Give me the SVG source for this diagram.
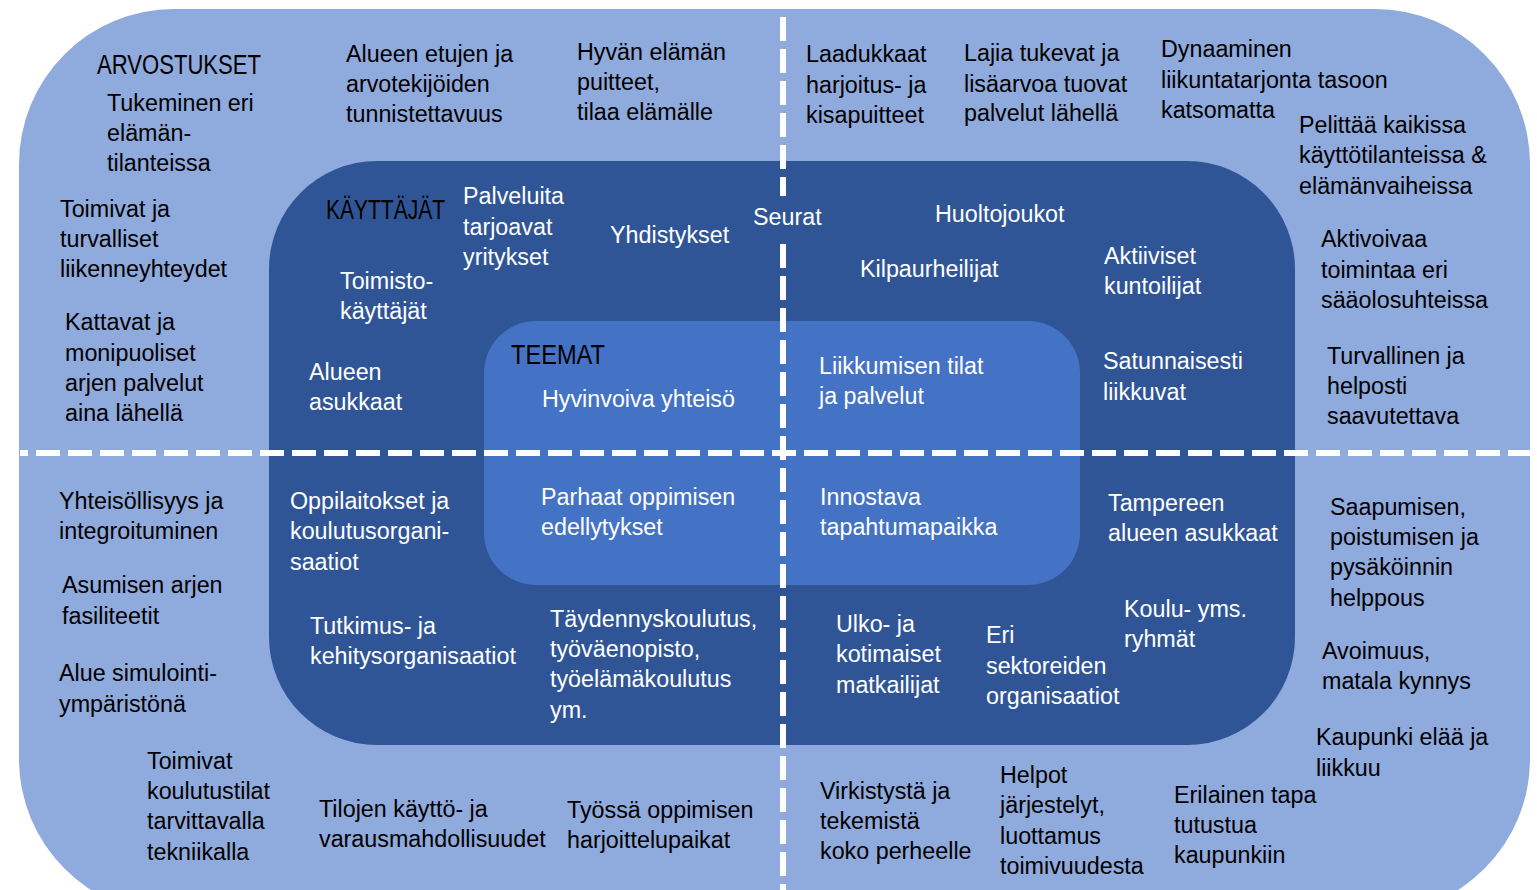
<svg xmlns="http://www.w3.org/2000/svg" width="1537" height="890" viewBox="0 0 1537 890">
<style>
text{font-family:"Liberation Sans",Arial,sans-serif;font-size:23.3px;}
.d{fill:#000;}
.w{fill:#fff;}
.t{font-size:27px;fill:#000;}
.dash{stroke:#fff;stroke-width:6;stroke-dasharray:24 8;fill:none;}
</style>
<rect width="1537" height="890" fill="#fff"/>
<g id="arvostukset-area"><rect x="19" y="9" width="1511" height="905" rx="155" ry="155" fill="#8FAADC"/></g>
<g id="kayttajat-area"><rect x="269" y="161" width="1026" height="584" rx="108" ry="108" fill="#2F5597"/></g>
<g id="teemat-area"><rect x="484" y="321" width="596" height="264" rx="52" ry="52" fill="#4472C4"/></g>
<g id="connectors">
<line class="dash" x1="20" y1="453" x2="1530" y2="453" stroke-dashoffset="16"/>
<line class="dash" x1="783" y1="17" x2="783" y2="196"/>
<line class="dash" x1="783" y1="244" x2="783" y2="890"/>
</g>
<g id="titles">
<text class="t" x="97" y="74" textLength="164" lengthAdjust="spacingAndGlyphs">ARVOSTUKSET</text>
<text class="t" x="326" y="219" textLength="119" lengthAdjust="spacingAndGlyphs">KÄYTTÄJÄT</text>
<text class="t" x="511" y="364" textLength="94" lengthAdjust="spacingAndGlyphs">TEEMAT</text>
</g>
<g id="values-top-left" class="d">
<text x="107" y="111">Tukeminen eri</text><text x="107" y="141">elämän-</text><text x="107" y="171">tilanteissa</text>
<text x="346" y="62">Alueen etujen ja</text><text x="346" y="92">arvotekijöiden</text><text x="346" y="122">tunnistettavuus</text>
<text x="577" y="60">Hyvän elämän</text><text x="577" y="90">puitteet,</text><text x="577" y="120">tilaa elämälle</text>
<text x="60" y="217">Toimivat ja</text><text x="60" y="247">turvalliset</text><text x="60" y="277">liikenneyhteydet</text>
<text x="65" y="330">Kattavat ja</text><text x="65" y="361">monipuoliset</text><text x="65" y="391">arjen palvelut</text><text x="65" y="421">aina lähellä</text>
</g>
<g id="values-top-right" class="d">
<text x="806" y="62">Laadukkaat</text><text x="806" y="93">harjoitus- ja</text><text x="806" y="123">kisapuitteet</text>
<text x="964" y="61">Lajia tukevat ja</text><text x="964" y="92">lisäarvoa tuovat</text><text x="964" y="121">palvelut lähellä</text>
<text x="1161" y="57">Dynaaminen</text><text x="1161" y="88">liikuntatarjonta tasoon</text><text x="1161" y="118">katsomatta</text>
<text x="1299" y="133">Pelittää kaikissa</text><text x="1299" y="163">käyttötilanteissa &amp;</text><text x="1299" y="194">elämänvaiheissa</text>
<text x="1321" y="247">Aktivoivaa</text><text x="1321" y="278">toimintaa eri</text><text x="1321" y="308">sääolosuhteissa</text>
<text x="1327" y="364">Turvallinen ja</text><text x="1327" y="394">helposti</text><text x="1327" y="424">saavutettava</text>
</g>
<g id="users-top" class="w">
<text x="463" y="204">Palveluita</text><text x="463" y="235">tarjoavat</text><text x="463" y="265">yritykset</text>
<text x="610" y="243">Yhdistykset</text>
<text x="753" y="225">Seurat</text>
<text x="935" y="222">Huoltojoukot</text>
<text x="860" y="277">Kilpaurheilijat</text>
<text x="1104" y="264">Aktiiviset</text><text x="1104" y="294">kuntoilijat</text>
<text x="340" y="289">Toimisto-</text><text x="340" y="319">käyttäjät</text>
<text x="309" y="380">Alueen</text><text x="309" y="410">asukkaat</text>
<text x="1103" y="369">Satunnaisesti</text><text x="1103" y="400">liikkuvat</text>
</g>
<g id="themes" class="w">
<text x="542" y="407">Hyvinvoiva yhteisö</text>
<text x="819" y="374">Liikkumisen tilat</text><text x="819" y="404">ja palvelut</text>
<text x="541" y="505">Parhaat oppimisen</text><text x="541" y="535">edellytykset</text>
<text x="820" y="505">Innostava</text><text x="820" y="535">tapahtumapaikka</text>
</g>
<g id="users-bottom" class="w">
<text x="290" y="509">Oppilaitokset ja</text><text x="290" y="539">koulutusorgani-</text><text x="290" y="570">saatiot</text>
<text x="1108" y="511">Tampereen</text><text x="1108" y="541">alueen asukkaat</text>
<text x="310" y="634">Tutkimus- ja</text><text x="310" y="664">kehitysorganisaatiot</text>
<text x="550" y="627">Täydennyskoulutus,</text><text x="550" y="657">työväenopisto,</text><text x="550" y="687">työelämäkoulutus</text><text x="550" y="718">ym.</text>
<text x="836" y="632">Ulko- ja</text><text x="836" y="662">kotimaiset</text><text x="836" y="693">matkailijat</text>
<text x="986" y="643">Eri</text><text x="986" y="674">sektoreiden</text><text x="986" y="704">organisaatiot</text>
<text x="1124" y="617">Koulu- yms.</text><text x="1124" y="647">ryhmät</text>
</g>
<g id="values-bottom-left" class="d">
<text x="59" y="509">Yhteisöllisyys ja</text><text x="59" y="539">integroituminen</text>
<text x="62" y="593">Asumisen arjen</text><text x="62" y="624">fasiliteetit</text>
<text x="59" y="681">Alue simulointi-</text><text x="59" y="712">ympäristönä</text>
<text x="147" y="769">Toimivat</text><text x="147" y="799">koulutustilat</text><text x="147" y="829">tarvittavalla</text><text x="147" y="860">tekniikalla</text>
<text x="319" y="817">Tilojen käyttö- ja</text><text x="319" y="847">varausmahdollisuudet</text>
<text x="567" y="818">Työssä oppimisen</text><text x="567" y="848">harjoittelupaikat</text>
</g>
<g id="values-bottom-right" class="d">
<text x="1330" y="515">Saapumisen,</text><text x="1330" y="545">poistumisen ja</text><text x="1330" y="575">pysäköinnin</text><text x="1330" y="606">helppous</text>
<text x="1322" y="659">Avoimuus,</text><text x="1322" y="689">matala kynnys</text>
<text x="1316" y="745">Kaupunki elää ja</text><text x="1316" y="776">liikkuu</text>
<text x="820" y="799">Virkistystä ja</text><text x="820" y="829">tekemistä</text><text x="820" y="859">koko perheelle</text>
<text x="1000" y="783">Helpot</text><text x="1000" y="813">järjestelyt,</text><text x="1000" y="844">luottamus</text><text x="1000" y="874">toimivuudesta</text>
<text x="1174" y="803">Erilainen tapa</text><text x="1174" y="833">tutustua</text><text x="1174" y="863">kaupunkiin</text>
</g>
</svg>
